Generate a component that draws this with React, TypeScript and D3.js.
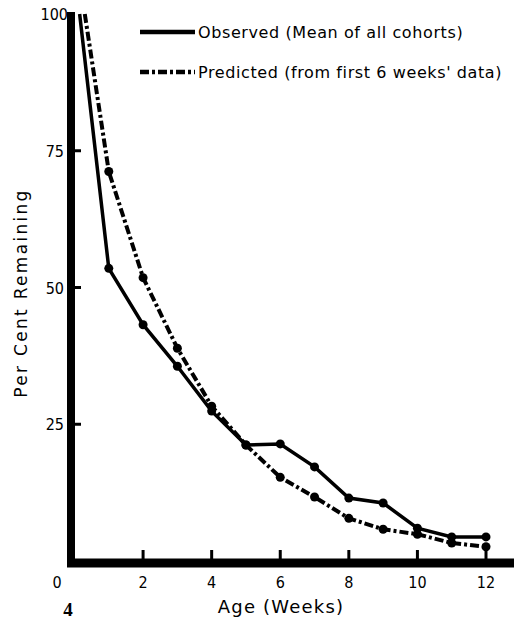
import React from 'react';
import * as d3 from 'd3';

// weeks at which each series was sampled (first point is the start at 100%)
const obsWeeks = [0.15, 1, 2, 3, 4, 5, 6, 7, 8, 9, 10, 11, 12];
const observed = [100, 53.5, 43.2, 35.6, 27.4, 21.2, 21.4, 17.2, 11.5, 10.6, 6.0, 4.4, 4.4];

const predWeeks = [0.3, 1, 2, 3, 4, 5, 6, 7, 8, 9, 10, 11, 12];
const predicted = [100, 71.2, 51.8, 38.9, 28.3, 21.2, 15.3, 11.7, 7.8, 5.8, 4.9, 3.3, 2.6];

const xTicks = [2, 4, 6, 8, 10, 12];
const yTicks = [25, 50, 75, 100];

const legendItems = [
  { label: 'Observed (Mean of all cohorts)', dash: 'none' },
  { label: "Predicted (from first 6 weeks' data)", dash: '9,3,3,3' },
];

const FONT = '"DejaVu Sans", sans-serif';
const TICK_FONT = '"DejaVu Sans Condensed", "DejaVu Sans", sans-serif';

export default function App() {
  const width = 518;
  const height = 623;

  const x = d3.scaleLinear().domain([0, 12]).range([74.5, 486]);
  const y = d3.scaleLinear().domain([0, 100]).range([561, 14]);

  const line = d3
    .line<[number, number]>()
    .x(d => x(d[0]))
    .y(d => y(d[1]));

  const obsPts: [number, number][] = obsWeeks.map((w, i) => [w, observed[i]]);
  const predPts: [number, number][] = predWeeks.map((w, i) => [w, predicted[i]]);

  const axisX = x(0) - 3.5;
  const axisY = y(0) + 2;

  return (
    <svg
      width={width}
      height={height}
      style={{ position: 'absolute', left: 0, top: 0, background: '#fff' }}
      fontFamily={FONT}
    >
      <rect width={width} height={height} fill="#fff" />

      {/* axes */}
      <line x1={axisX} x2={axisX} y1={axisY + 4} y2={y(100) - 2} stroke="#000" strokeWidth={8} />
      <line x1={axisX - 4} x2={514} y1={axisY} y2={axisY} stroke="#000" strokeWidth={9} />

      {xTicks.map(t => (
        <g key={t}>
          <line x1={x(t)} x2={x(t)} y1={axisY} y2={axisY - 13} stroke="#000" strokeWidth={3} />
          <text x={x(t)} y={588} textAnchor="middle" fontSize={16} fontFamily={TICK_FONT}>{t}</text>
        </g>
      ))}
      <text x={57} y={588} textAnchor="middle" fontSize={16} fontFamily={TICK_FONT}>0</text>

      {yTicks.map(t => (
        <g key={t}>
          {t < 100 && (
            <line x1={axisX} x2={axisX + 10} y1={y(t)} y2={y(t)} stroke="#000" strokeWidth={3} />
          )}
          <text x={t === 100 ? 68 : 64} y={y(t) + 6} textAnchor="end" fontSize={16} fontFamily={TICK_FONT}>{t}</text>
        </g>
      ))}

      {/* series */}
      <path d={line(predPts) ?? ''} fill="none" stroke="#000" strokeWidth={4} strokeDasharray="9,3,3,3" />
      <path d={line(obsPts) ?? ''} fill="none" stroke="#000" strokeWidth={3.5} />
      {predPts.slice(1).map((d, i) => (
        <circle key={'p' + i} cx={x(d[0])} cy={y(d[1])} r={4.5} fill="#000" />
      ))}
      {obsPts.slice(1).map((d, i) => (
        <circle key={'o' + i} cx={x(d[0])} cy={y(d[1])} r={4.5} fill="#000" />
      ))}

      {/* legend */}
      {legendItems.map((it, i) => (
        <g key={it.label} transform={`translate(140, ${32 + i * 40})`}>
          <line x1={0} x2={55} y1={0} y2={0} stroke="#000" strokeWidth={4.5} strokeDasharray={it.dash} />
          <text x={58} y={6} fontSize={16} letterSpacing={0.6}>{it.label}</text>
        </g>
      ))}

      {/* axis titles */}
      <text
        transform={`translate(27, 293) rotate(-90)`}
        textAnchor="middle"
        fontSize={17}
        letterSpacing={2.3}
      >
        Per Cent Remaining
      </text>
      <text x={281} y={613} textAnchor="middle" fontSize={18} letterSpacing={1.2}>Age  (Weeks)</text>
      <text x={68} y={616} textAnchor="middle" fontSize={19} fontWeight="bold" fontFamily="serif">4</text>
    </svg>
  );
}
